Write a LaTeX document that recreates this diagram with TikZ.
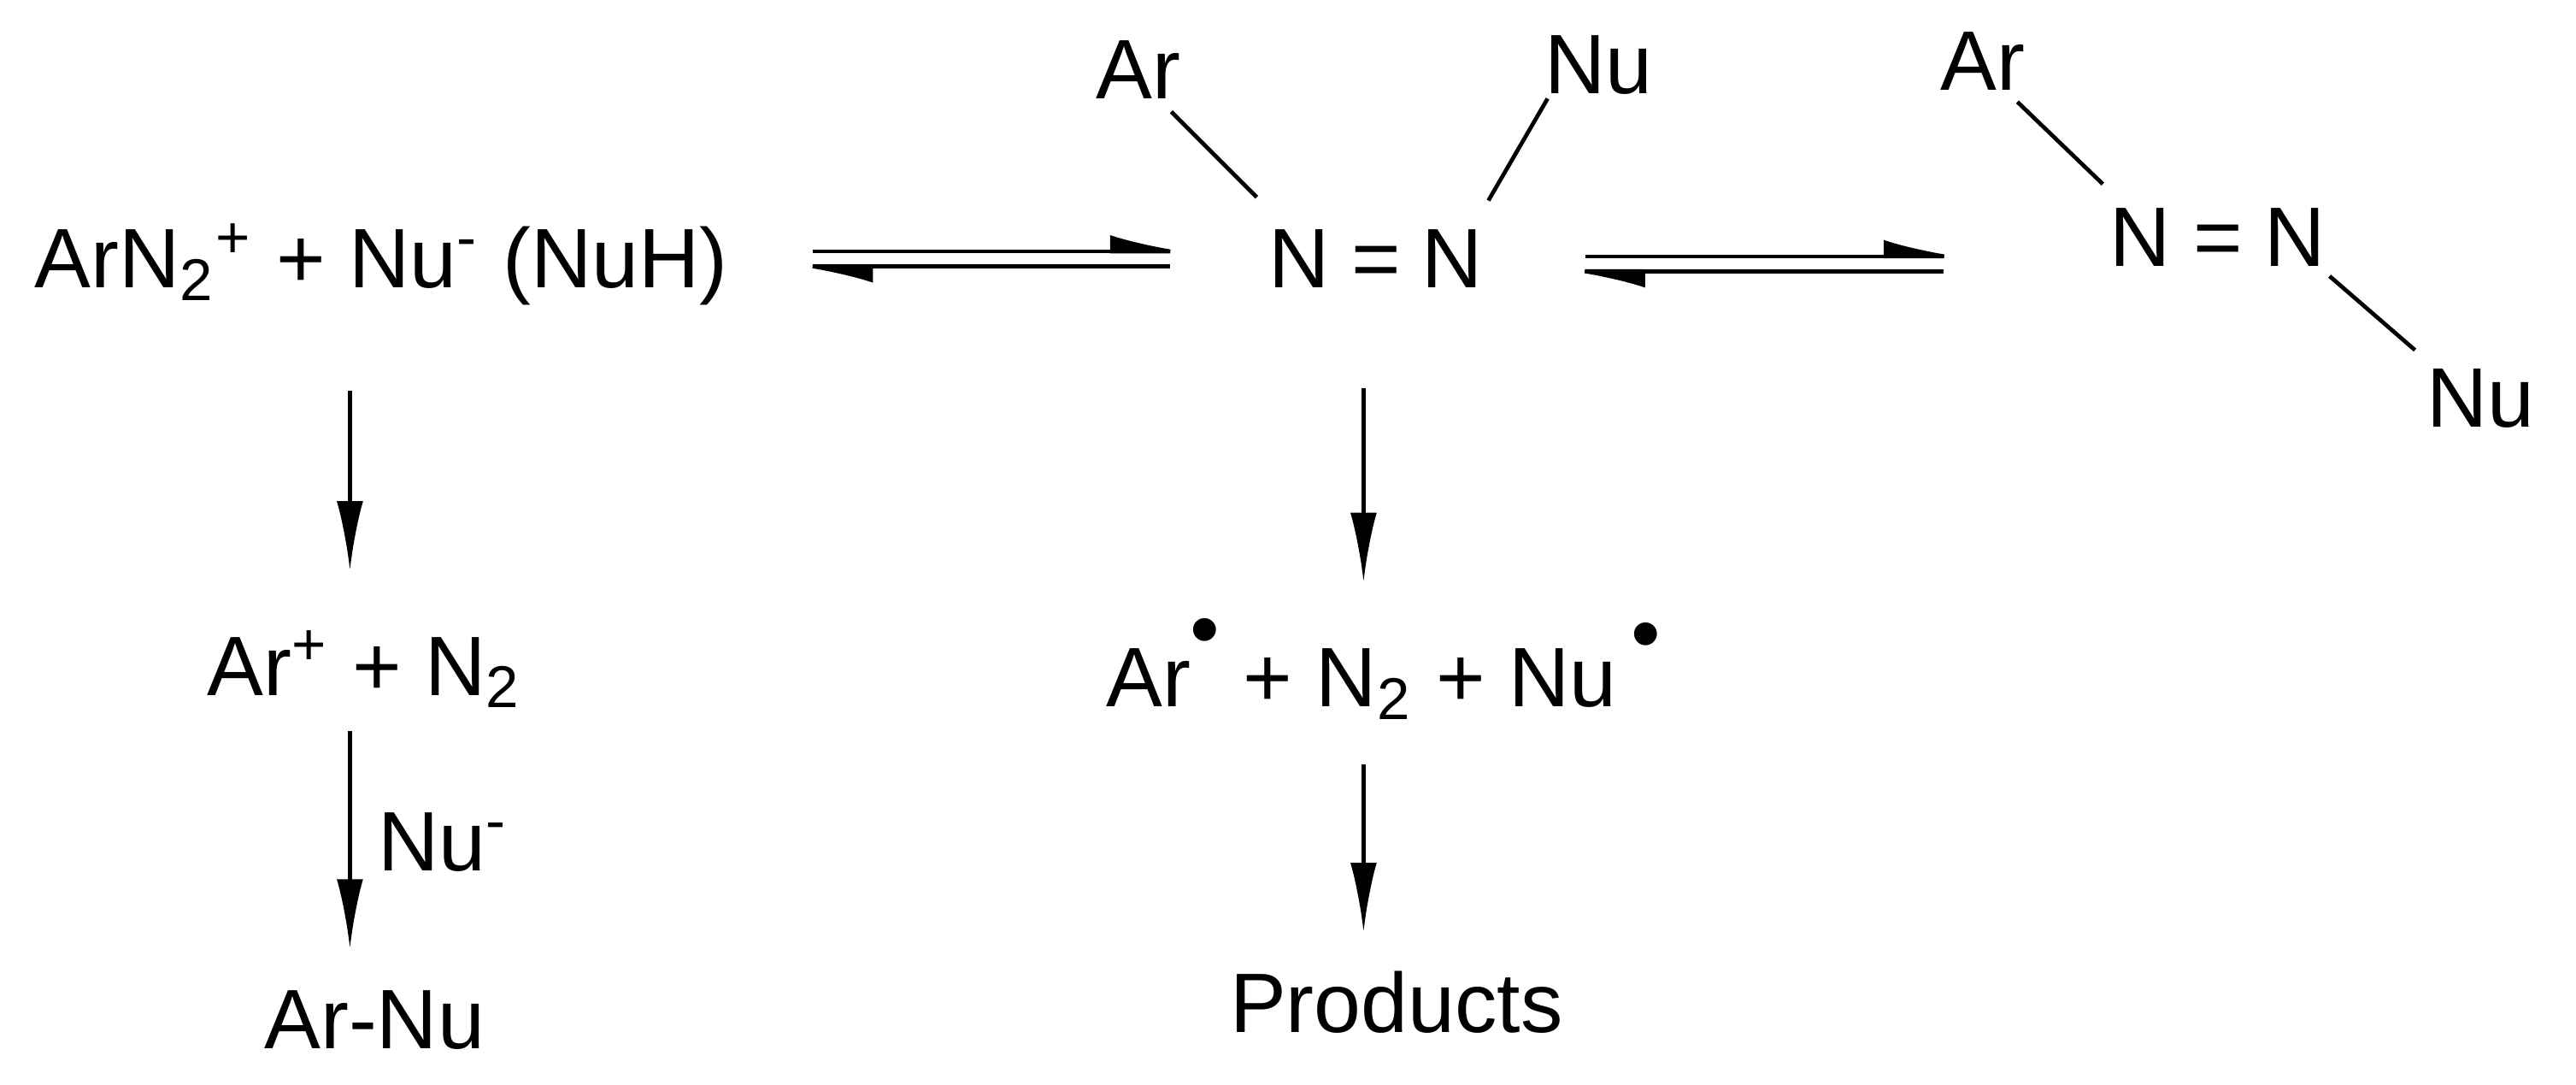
\documentclass[tikz,border=0pt]{standalone}
\usepackage{fontspec}
\setmainfont{Liberation Sans}
\usetikzlibrary{arrows.meta}
\tikzset{
 lbl/.style={font=\fontsize{14.6}{16}\selectfont, inner sep=0pt, anchor=base},
 bond/.style={line width=0.7pt},
 rxn/.style={line width=0.7pt, -{Latex[length=0.42cm,width=0.16cm]}},
 harp/.style={line width=0.7pt, -{Latex[harpoon,length=0.45cm,width=0.2cm]}},
}
\newcommand{\sps}[1]{\textsuperscript{#1}}
\newcommand{\sbs}[1]{\textsubscript{#1}}
\begin{document}
\begin{tikzpicture}[x=0.01cm,y=-0.01cm]
\useasboundingbox[fill=white] (0,0) rectangle (1568,660);
\node[lbl] (r1) at (232,175) {ArN\sbs{2}\sps{+} + Nu\sps{-} (NuH)};
% equilibrium 1
\coordinate (e1a) at (495,153); \coordinate (e1b) at (729,153);
\coordinate (e1c) at (712,162); \coordinate (e1d) at (478,162);
\draw[harp] (e1a) -- (e1b);
\draw[harp] (e1c) -- (e1d);
% cis azo
\node[lbl] (n1) at (791,175) {N};
\node[lbl] (eq1) at (838,175) {=};
\node[lbl] (n2) at (884,175) {N};
\node[lbl] (ar1) at (693,60) {Ar};
\node[lbl] (nu1) at (973,57) {Nu};
\coordinate (b1a) at (713,68); \coordinate (b1b) at (765,120);
\coordinate (b2a) at (942,60); \coordinate (b2b) at (906,122);
\draw[bond] (b1a) -- (b1b);
\draw[bond] (b2a) -- (b2b);
% equilibrium 2
\coordinate (e2a) at (965,156); \coordinate (e2b) at (1200,156);
\coordinate (e2c) at (1183,165); \coordinate (e2d) at (948,165);
\draw[harp] (e2a) -- (e2b);
\draw[harp] (e2c) -- (e2d);
% trans azo
\node[lbl] (ar2) at (1207,55) {Ar};
\node[lbl] (n3) at (1303,162) {N};
\node[lbl] (eq2) at (1350,162) {=};
\node[lbl] (n4) at (1397,162) {N};
\node[lbl] (nu2) at (1510,260) {Nu};
\coordinate (b3a) at (1228,62); \coordinate (b3b) at (1280,112);
\coordinate (b4a) at (1418,168); \coordinate (b4b) at (1470,213);
\draw[bond] (b3a) -- (b3b);
\draw[bond] (b4a) -- (b4b);
% left branch
\node[lbl] (c1) at (222,423) {Ar\sps{+} + N\sbs{2}};
\node[lbl] (c2) at (228,638) {Ar-Nu};
\node[lbl] (nu3) at (270,530) {Nu\sps{-}};
\coordinate (a1) at (213,238); \coordinate (a2) at (213,347);
\coordinate (a3) at (213,445); \coordinate (a4) at (213,577);
\draw[rxn] (a1) -- (a2);
\draw[rxn] (a3) -- (a4);
% middle branch
\node[lbl] (d1) at (842,430) {Ar\raisebox{1.1ex}{•} + N\sbs{2} + Nu\,\raisebox{1.0ex}{•}};
\node[lbl] (d2) at (850,628) {Products};
\coordinate (m1) at (830,236); \coordinate (m2) at (830,354);
\coordinate (m3) at (830,465); \coordinate (m4) at (830,567);
\draw[rxn] (m1) -- (m2);
\draw[rxn] (m3) -- (m4);
\end{tikzpicture}
\end{document}
